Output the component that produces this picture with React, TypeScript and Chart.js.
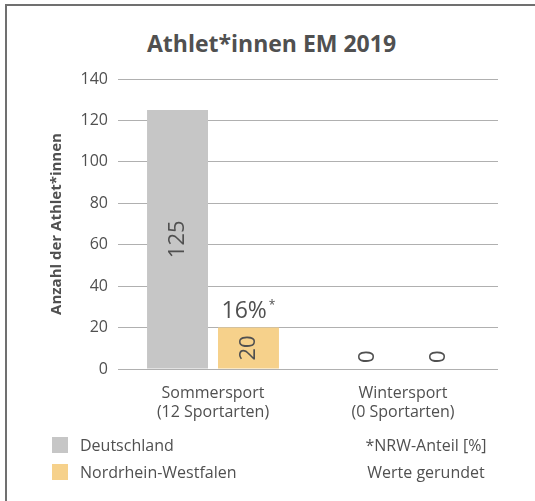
import React, { useEffect, useRef } from "react";
import { Chart, registerables } from "chart.js";

Chart.register(...registerables);

const categories: string[][] = [
  ["Sommersport", "(12 Sportarten)"],
  ["Wintersport", "(0 Sportarten)"],
];
const seriesNames = ["Deutschland", "Nordrhein-Westfalen"];
const deutschland = [125, 0];
const nrw = [20, 0];
const yMax = 140;
const yStep = 20;
const notes = ["*NRW-Anteil [%]", "Werte gerundet"];
const titleText = "Athlet*innen EM 2019";
const yTitle = "Anzahl der Athlet*innen";

const COLORS = ["#c6c6c6", "#f6d18b"];
const TEXT = "#505050";
const FONT = '"Open Sans", sans-serif';

const valueLabels = {
  id: "valueLabels",
  afterDatasetsDraw(chart: any) {
    const ctx = chart.ctx;
    chart.data.datasets.forEach((ds: any, di: number) => {
      const meta = chart.getDatasetMeta(di);
      meta.data.forEach((bar: any, i: number) => {
        const v = ds.data[i];
        const { x, y, base } = bar.getProps(["x", "y", "base"], true);
        ctx.save();
        ctx.translate(x, v === 0 ? base - 6 : (y + base) / 2);
        ctx.rotate(-Math.PI / 2);
        ctx.font = `22px ${FONT}`;
        ctx.fillStyle = TEXT;
        ctx.textAlign = v === 0 ? "left" : "center";
        ctx.textBaseline = "middle";
        ctx.fillText(String(v), 0, 0);
        ctx.restore();
      });
    });
    // NRW share label above NRW bar
    const metaNrw = chart.getDatasetMeta(1);
    deutschland.forEach((d, i) => {
      if (!d) return;
      const pct = Math.round((nrw[i] / d) * 100);
      const bar = metaNrw.data[i];
      const { x, y } = bar.getProps(["x", "y"], true);
      const main = `${pct}%`;
      ctx.save();
      ctx.fillStyle = TEXT;
      ctx.textBaseline = "alphabetic";
      ctx.textAlign = "left";
      ctx.font = `23px ${FONT}`;
      const w1 = ctx.measureText(main).width;
      ctx.font = `12px ${FONT}`;
      const w2 = ctx.measureText("*").width;
      const x0 = x - (w1 + 2 + w2) / 2;
      const baseY = y - 10;
      ctx.font = `23px ${FONT}`;
      ctx.fillText(main, x0, baseY);
      ctx.font = `12px ${FONT}`;
      ctx.fillText("*", x0 + w1 + 2, baseY - 9);
      ctx.restore();
    });
  },
};

export default function App() {
  const ref = useRef<HTMLCanvasElement>(null);
  useEffect(() => {
    if (!ref.current) return;
    const chart = new Chart(ref.current, {
      type: "bar",
      data: {
        labels: categories,
        datasets: [
          {
            label: seriesNames[0],
            data: deutschland,
            backgroundColor: COLORS[0],
            categoryPercentage: 0.747,
            barPercentage: 0.859,
          },
          {
            label: seriesNames[1],
            data: nrw,
            backgroundColor: COLORS[1],
            categoryPercentage: 0.747,
            barPercentage: 0.859,
          },
        ],
      },
      options: {
        responsive: false,
        animation: false,
        devicePixelRatio: 1,
        layout: { padding: { top: 79, left: 44, right: 37, bottom: 72 } },
        plugins: {
          legend: { display: false },
          title: { display: false },
          tooltip: { enabled: false },
        },
        scales: {
          x: {
            grid: { display: false },
            border: { display: false },
            ticks: {
              color: TEXT,
              font: { family: FONT, size: 16 },
              padding: 7,
            },
            afterFit: (s: any) => {
              s.height = 60;
            },
          },
          y: {
            min: 0,
            max: yMax,
            ticks: {
              stepSize: yStep,
              color: TEXT,
              font: { family: FONT, size: 16 },
              padding: 10,
            },
            grid: { color: "#b0b0b0", drawTicks: false, lineWidth: 1 },
            border: { display: false },
            title: {
              display: true,
              text: yTitle,
              color: TEXT,
              font: { family: FONT, size: 15, weight: "bold" },
            },
            afterFit: (s: any) => {
              s.width = 74;
            },
          },
        },
      },
      plugins: [valueLabels],
    });
    return () => chart.destroy();
  }, []);

  return (
    <div
      style={{
        position: "absolute",
        left: 0,
        top: 0,
        width: 535,
        height: 501,
        background: "#fff",
        overflow: "hidden",
        fontFamily: FONT,
        color: TEXT,
      }}
    >
      <div
        style={{
          position: "absolute",
          left: 5,
          top: 4,
          width: 540,
          height: 510,
          borderTop: "2px solid #707070",
          borderLeft: "2px solid #707070",
          boxSizing: "border-box",
        }}
      />
      <div
        style={{
          position: "absolute",
          left: 0,
          top: 32,
          width: 543,
          textAlign: "center",
          fontSize: 23,
          lineHeight: "23px",
          fontWeight: "bold",
          whiteSpace: "nowrap",
        }}
      >
        {titleText}
      </div>
      <canvas
        ref={ref}
        width={535}
        height={501}
        style={{ position: "absolute", left: 0, top: 0, width: 535, height: 501 }}
      />
      {seriesNames.map((n, i) => (
        <React.Fragment key={n}>
          <div
            style={{
              position: "absolute",
              left: 52,
              top: 437 + i * 27,
              width: 16,
              height: 16,
              background: COLORS[i],
            }}
          />
          <div
            style={{
              position: "absolute",
              left: 80,
              top: 437 + i * 27,
              fontSize: 16,
              lineHeight: "16px",
              whiteSpace: "nowrap",
            }}
          >
            {n}
          </div>
          <div
            style={{
              position: "absolute",
              left: 326,
              width: 200,
              textAlign: "center",
              top: 437 + i * 27,
              fontSize: 16,
              lineHeight: "16px",
              whiteSpace: "nowrap",
            }}
          >
            {notes[i]}
          </div>
        </React.Fragment>
      ))}
    </div>
  );
}
